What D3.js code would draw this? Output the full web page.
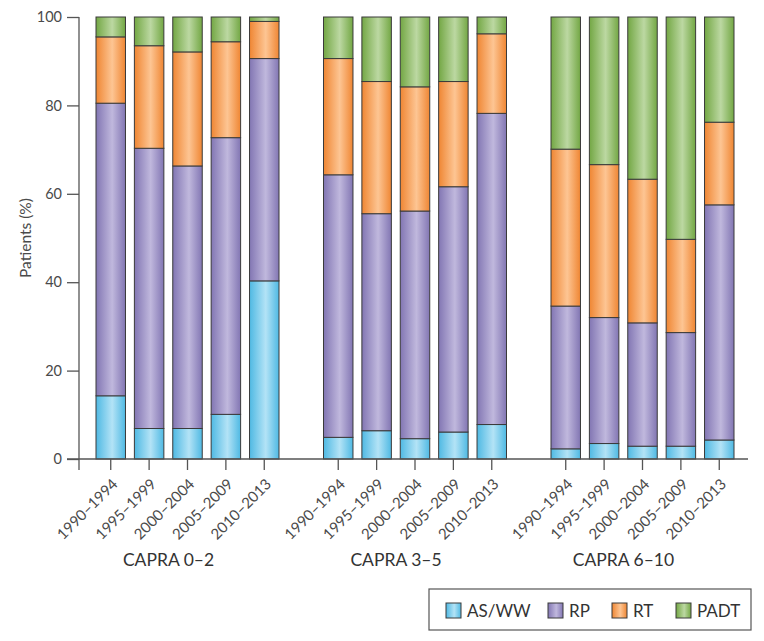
<!DOCTYPE html>
<html>
<head>
<meta charset="utf-8">
<script src="https://cdn.jsdelivr.net/npm/d3@7"></script>
<style>
  html, body { margin: 0; padding: 0; background: #fff; }
  svg text { font-family: Lato, "Open Sans", sans-serif; }
</style>
</head>
<body>
<svg id="chart" width="764" height="641"></svg>
<script>
// groups and periods
const groups = ['CAPRA 0–2', 'CAPRA 3–5', 'CAPRA 6–10'];
const periods = ['1990–1994', '1995–1999', '2000–2004', '2005–2009', '2010–2013'];
const seriesKeys = ['AS/WW', 'RP', 'RT', 'PADT'];

// % of patients per period, one array per group
const aswwVals = [[14.3, 6.9, 6.9, 10.1, 40.3], [4.9, 6.4, 4.6, 6.1, 7.8], [2.3, 3.5, 2.9, 2.9, 4.3]];
const rpVals   = [[66.2, 63.4, 59.4, 62.6, 50.3], [59.4, 49.1, 51.5, 55.5, 70.4], [32.3, 28.5, 27.9, 25.7, 53.2]];
const rtVals   = [[15.0, 23.2, 25.8, 21.7, 8.4], [26.3, 29.9, 28.1, 23.8, 18.0], [35.5, 34.6, 32.5, 21.1, 18.7]];
const padtVals = [[4.5, 6.5, 7.9, 5.6, 1.0], [9.4, 14.6, 15.8, 14.6, 3.8], [29.9, 33.4, 36.7, 50.3, 23.8]];

const yTicks = [0, 20, 40, 60, 80, 100];

// edge colour / centre highlight for each series
const baseColors  = ['#4fb9e3', '#8276b3', '#ef8633', '#73a744'];
const lightColors = ['#b3e3f6', '#c0b8dd', '#fdc593', '#bcd8a2'];

const svg = d3.select('#chart');
const yTop = 17, yBottom = 459;
const axisLeftX = 79, axisRightX = 748;

const rows = [];
groups.forEach((g, gi) => {
    periods.forEach((p, pi) => {
        rows.push({
            group: g, period: p,
            'AS/WW': aswwVals[gi][pi],
            'RP': rpVals[gi][pi],
            'RT': rtVals[gi][pi],
            'PADT': padtVals[gi][pi]
        });
    });
});

const stacked = d3.stack().keys(seriesKeys)(rows);

const y = d3.scaleLinear().domain([0, 100]).range([yBottom, yTop]);
const xOuter = d3.scaleBand().domain(groups).range([96, 734]).paddingInner(0.1956).paddingOuter(0);
const xInner = d3.scaleBand().domain(periods).range([0, xOuter.bandwidth()]).paddingInner(0.232).paddingOuter(0);

// gradients (darker edges, light centre)
const defs = svg.append('defs');
seriesKeys.forEach((k, i) => {
    const grad = defs.append('linearGradient')
        .attr('id', 'grad' + i)
        .attr('x1', '0%').attr('x2', '100%').attr('y1', '0%').attr('y2', '0%');
    grad.append('stop').attr('offset', '0%').attr('stop-color', baseColors[i]);
    grad.append('stop').attr('offset', '55%').attr('stop-color', lightColors[i]);
    grad.append('stop').attr('offset', '100%').attr('stop-color', baseColors[i]);
});

// bars
stacked.forEach((layer, i) => {
    svg.append('g')
        .selectAll('rect')
        .data(layer)
        .join('rect')
        .attr('x', d => xOuter(d.data.group) + xInner(d.data.period))
        .attr('y', d => y(d[1]))
        .attr('width', xInner.bandwidth())
        .attr('height', d => y(d[0]) - y(d[1]))
        .attr('fill', 'url(#grad' + i + ')')
        .attr('stroke', '#3a3a3a')
        .attr('stroke-width', 1);
});

// y axis
const yAxisG = svg.append('g')
    .attr('transform', `translate(${axisLeftX},0)`)
    .call(d3.axisLeft(y).tickValues(yTicks).tickSize(12).tickSizeOuter(0).tickPadding(5));
yAxisG.select('.domain').attr('stroke', '#555').attr('stroke-width', 1.3)
    .attr('d', `M0,${yTop}V${yBottom + 11}`);
yAxisG.selectAll('.tick line').attr('stroke', '#555').attr('stroke-width', 1.3);
yAxisG.selectAll('.tick text')
    .style('font-size', '14.5px').attr('fill', '#4a4a4a');

// x baseline
svg.append('line')
    .attr('x1', axisLeftX - 12).attr('x2', axisRightX)
    .attr('y1', yBottom).attr('y2', yBottom)
    .attr('stroke', '#555').attr('stroke-width', 1.3);

// x axis ticks + rotated labels per group
groups.forEach(g => {
    const ax = svg.append('g')
        .attr('transform', `translate(${xOuter(g)},${yBottom})`)
        .call(d3.axisBottom(xInner).tickSize(11).tickSizeOuter(0));
    ax.select('.domain').remove();
    ax.selectAll('.tick line').attr('stroke', '#555').attr('stroke-width', 1.3);
    ax.selectAll('.tick text')
        .attr('text-anchor', 'end')
        .attr('dy', null).attr('y', null)
        .attr('transform', 'translate(8,26) rotate(-45)')
        .style('font-size', '15px').attr('fill', '#4a4a4a');
});

// group labels (centred a little left of the group, under the slanted labels)
svg.append('g')
    .selectAll('text')
    .data(groups)
    .join('text')
    .attr('x', d => xOuter(d) + xOuter.bandwidth() / 2 - 19)
    .attr('y', 566)
    .attr('text-anchor', 'middle')
    .style('font-size', '17.5px')
    .attr('fill', '#333')
    .text(d => d);

// y title
svg.append('text')
    .attr('transform', `translate(31,${(yTop + yBottom) / 2}) rotate(-90)`)
    .attr('text-anchor', 'middle')
    .style('font-size', '15.5px')
    .attr('fill', '#4a4a4a')
    .text('Patients (%)');

// legend
const legend = svg.append('g');
legend.append('rect')
    .attr('x', 429).attr('y', 589).attr('width', 322).attr('height', 41)
    .attr('fill', 'none').attr('stroke', '#555').attr('stroke-width', 1.2);
const legendX = [446, 548, 612, 676];
seriesKeys.forEach((k, i) => {
    legend.append('rect')
        .attr('x', legendX[i]).attr('y', 603)
        .attr('width', 15).attr('height', 15)
        .attr('fill', 'url(#grad' + i + ')')
        .attr('stroke', '#3a3a3a').attr('stroke-width', 1);
    legend.append('text')
        .attr('x', legendX[i] + 21).attr('y', 617)
        .style('font-size', '17px')
        .attr('fill', '#333')
        .text(k);
});
</script>
</body>
</html>
